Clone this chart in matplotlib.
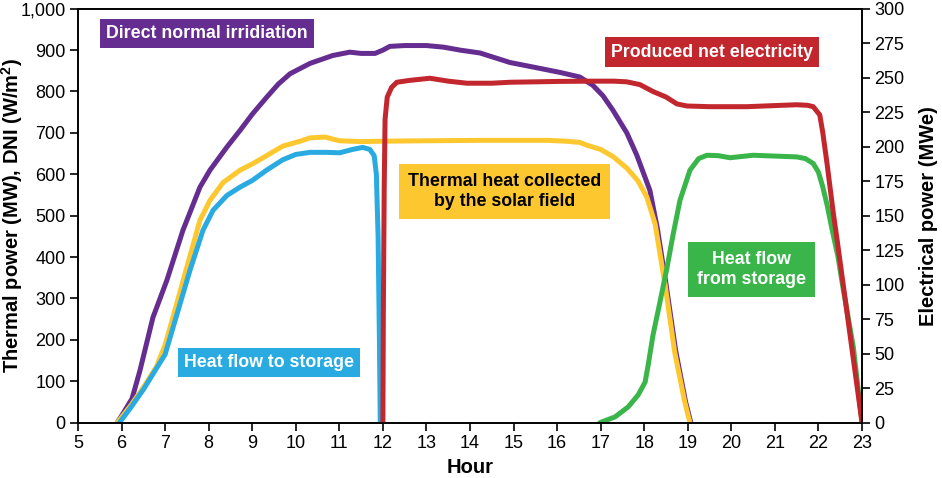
import matplotlib.pyplot as plt
import numpy as np
from matplotlib.ticker import FuncFormatter, MultipleLocator

plt.rcParams['font.family'] = ['Liberation Sans', 'DejaVu Sans']
plt.rcParams['mathtext.fontset'] = 'custom'
plt.rcParams['mathtext.rm'] = 'Liberation Sans'
plt.rcParams['mathtext.bf'] = 'Liberation Sans:bold'

# Data (hours, MW / W/m2 on left axis, MWe on right axis)
dni_hours = [5.9, 6.05, 6.24, 6.42, 6.72, 7.04, 7.41, 7.8, 8.03, 8.42, 8.72, 9.0, 9.33,
             9.6, 9.87, 10.33, 10.85, 11.24, 11.5, 11.82, 12.0, 12.16, 12.5, 13.0, 13.4,
             13.77, 14.23, 14.92, 15.5, 16.07, 16.52, 16.82, 17.05, 17.28, 17.6, 17.83,
             18.13, 18.3, 18.5, 18.72, 18.95, 19.07]
dni_vals = [0, 25, 58, 125, 254, 344, 465, 569, 610, 666, 706, 745, 786,
            818, 843, 868, 887, 895, 892, 892, 900, 909, 911, 911, 907,
            900, 893, 870, 858, 846, 835, 815, 790, 755, 700, 646,
            561, 470, 335, 175, 50, 0]

field_hours = [5.9, 6.2, 6.5, 6.8, 7.0, 7.16, 7.5, 7.8, 8.03, 8.33, 8.72, 9.0, 9.33,
               9.7, 10.1, 10.33, 10.67, 11.0, 11.5, 12.0, 13.0, 14.23, 15.0, 15.77,
               16.2, 16.52, 16.69, 17.0, 17.28, 17.6, 17.85, 18.06, 18.25, 18.48,
               18.7, 18.93, 19.05]
field_vals = [0, 40, 85, 135, 188, 247, 376, 489, 537, 580, 610, 625, 645,
              668, 680, 688, 690, 681, 679, 680, 681, 682, 682, 682,
              680, 677, 670, 660, 643, 615, 585, 545, 480, 332,
              170, 50, 0]

to_storage_hours = [5.95, 6.2, 6.5, 7.0, 7.23, 7.57, 7.87, 8.1, 8.42, 8.72, 9.0, 9.33,
                    9.7, 10.0, 10.33, 10.7, 11.01, 11.3, 11.54, 11.7, 11.8, 11.85,
                    11.89, 11.92, 11.94]
to_storage_vals = [0, 35, 80, 165, 247, 368, 465, 513, 549, 569, 585, 610,
                   635, 648, 653, 653, 652, 660, 665, 660, 645, 600,
                   450, 200, 0]

from_storage_hours = [16.98, 17.33, 17.63, 17.86, 18.02, 18.09, 18.2, 18.36, 18.52,
                      18.66, 18.82, 19.05, 19.25, 19.44, 19.7, 19.97, 20.5, 21.0, 21.5,
                      21.7, 21.88, 22.0, 22.1, 22.2, 22.3, 22.45, 22.56, 22.8, 23.0]
from_storage_vals = [0, 14, 38, 67, 98, 139, 211, 291, 373,
                     453, 537, 610, 638, 646, 645, 640, 646, 644, 642,
                     638, 626, 605, 569, 525, 473, 400, 328, 183, 0]

elec_hours = [12.0, 12.01, 12.03, 12.05, 12.1, 12.2, 12.32, 12.6, 13.08, 13.5, 13.93,
              14.5, 14.92, 15.5, 16.0, 16.8, 17.3, 17.6, 17.9, 18.2, 18.5, 18.75,
              18.98, 19.5, 20.36, 21.0, 21.5, 21.75, 21.88, 22.03, 22.1, 22.2,
              22.34, 22.43, 23.0]
elec_vals = [0, 80, 170, 220, 236, 243, 246.7, 248, 249.6, 247.5, 246,
             246, 246.7, 247, 247.3, 247.5, 247.5, 247, 245, 240, 236, 231,
             229.5, 229, 229, 229.8, 230.4, 230, 229, 223, 210, 187,
             152, 132, 0]

purple = '#662d91'
yellow = '#fdc82f'
blue = '#29abe2'
red = '#c1272d'
green = '#39b54a'

fig = plt.figure(figsize=(9.42, 4.78), dpi=100)
ax = fig.add_axes([0.0828, 0.1157, 0.8323, 0.8661])
ax2 = ax.twinx()

lw = 3.6
style = dict(linewidth=lw, solid_capstyle='round', solid_joinstyle='round')
ax.plot(dni_hours, dni_vals, color=purple, **style)
ax.plot(field_hours, field_vals, color=yellow, **style)
ax.plot(to_storage_hours, to_storage_vals, color=blue, **style)
ax.plot(from_storage_hours, from_storage_vals, color=green, **style)
ax2.plot(elec_hours, elec_vals, color=red, **style)

ax.set_xlim(5, 23)
ax.set_ylim(0, 1000)
ax2.set_ylim(0, 300)
ax.xaxis.set_major_locator(MultipleLocator(1))
ax.yaxis.set_major_locator(MultipleLocator(100))
ax2.yaxis.set_major_locator(MultipleLocator(25))
ax.yaxis.set_major_formatter(FuncFormatter(lambda v, p: f'{int(v):,}'))

for a in (ax, ax2):
    for s in a.spines.values():
        s.set_linewidth(1.2)
    a.tick_params(labelsize=13, length=6, width=1.2, direction='out', pad=3)

ax.set_xlabel('Hour', fontsize=14.5, fontweight='bold', labelpad=4)
ax.set_ylabel(r'Thermal power (MW), DNI (W/m$\mathbf{^2}$)', fontsize=14.5,
              fontweight='bold')
ax2.set_ylabel('Electrical power (MWe)', fontsize=14.5, fontweight='bold')
ax.yaxis.set_label_coords(-0.067, 0.5)
ax2.yaxis.set_label_coords(1.0727, 0.5)

box = dict(boxstyle='square,pad=0.35', ec='none')
box2 = dict(boxstyle='square,pad=0.5', ec='none')
ax.text(7.96, 940, 'Direct normal irridiation', color='white', fontsize=12.8,
        fontweight='bold', ha='center', va='center', bbox=dict(box, fc=purple))
ax.text(19.56, 895, 'Produced net electricity', color='white', fontsize=12.8,
        fontweight='bold', ha='center', va='center', bbox=dict(box, fc=red))
ax.text(14.8, 558, 'Thermal heat collected\nby the solar field', color='black',
        fontsize=12.8, fontweight='bold', ha='center', va='center', linespacing=1.2,
        bbox=dict(box2, fc=yellow))
ax.text(9.39, 146, 'Heat flow to storage', color='white', fontsize=12.8,
        fontweight='bold', ha='center', va='center', bbox=dict(box, fc=blue))
ax.text(20.47, 370, 'Heat flow\nfrom storage', color='white', fontsize=12.8,
        fontweight='bold', ha='center', va='center', linespacing=1.2,
        bbox=dict(box2, fc=green))

fig.savefig('out.png', dpi=100)
